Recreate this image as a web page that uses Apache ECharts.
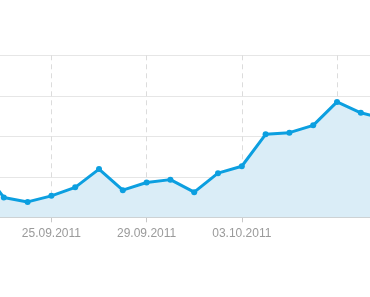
<!DOCTYPE html>
<html><head><meta charset="utf-8">
<script src="https://cdn.jsdelivr.net/npm/echarts@6/dist/echarts.min.js"></script>
<style>html,body{margin:0;padding:0;background:#fff;overflow:hidden;width:370px;height:297px}#wrap{position:relative;width:370px;height:297px;overflow:hidden}#c{position:absolute;left:-20.4px;top:0;width:405px;height:297px}</style>
</head><body><div id="wrap"><div id="c"></div></div>
<script>
var categories = ['22.09.2011','23.09.2011','24.09.2011','25.09.2011','26.09.2011','27.09.2011','28.09.2011','29.09.2011','30.09.2011','01.10.2011','02.10.2011','03.10.2011','04.10.2011','05.10.2011','06.10.2011','07.10.2011','08.10.2011','09.10.2011'];
var values = [127, 49, 38, 53, 74, 119, 67, 86, 93, 62, 109, 126, 205, 209, 227, 285, 258, 243];
var gridIdx = [3, 7, 11, 15];
var labelIdx = [3, 7, 11];

var chart = echarts.init(document.getElementById('c'), null, {renderer:'canvas'});
function isGrid(i){ return gridIdx.indexOf(i) >= 0; }
function isLabel(i){ return labelIdx.indexOf(i) >= 0; }
chart.setOption({
  animation:false,
  grid:{left:0, right:0.4, top:55.3, bottom:79.7, containLabel:false},
  xAxis:{
    type:'category', data:categories, boundaryGap:false,
    axisLine:{show:true, lineStyle:{color:'#c8c8c8', width:1}},
    axisTick:{show:true, interval:function(i){return isLabel(i);}, length:5, lineStyle:{color:'#c8c8c8'}},
    axisLabel:{interval:function(i){return isLabel(i);}, color:'#9a9a9a', fontSize:12, fontFamily:'Liberation Sans, Arial, sans-serif', margin:10},
    splitLine:{show:true, interval:function(i){return isGrid(i);}, lineStyle:{color:'#dcdcdc', type:[5,4], width:1}}
  },
  yAxis:{
    type:'value', min:0, max:400, interval:100,
    axisLine:{show:false}, axisTick:{show:false}, axisLabel:{show:false},
    splitLine:{lineStyle:{color:'#e6e6e6', width:1}}
  },
  series:[{
    type:'line', data:values,
    symbol:'circle', symbolSize:6, showAllSymbol:true,
    itemStyle:{color:'#0c9fe0', borderWidth:0},
    lineStyle:{color:'#0c9fe0', width:3},
    areaStyle:{color:'#daedf7', opacity:1}
  }]
});
</script></body></html>
